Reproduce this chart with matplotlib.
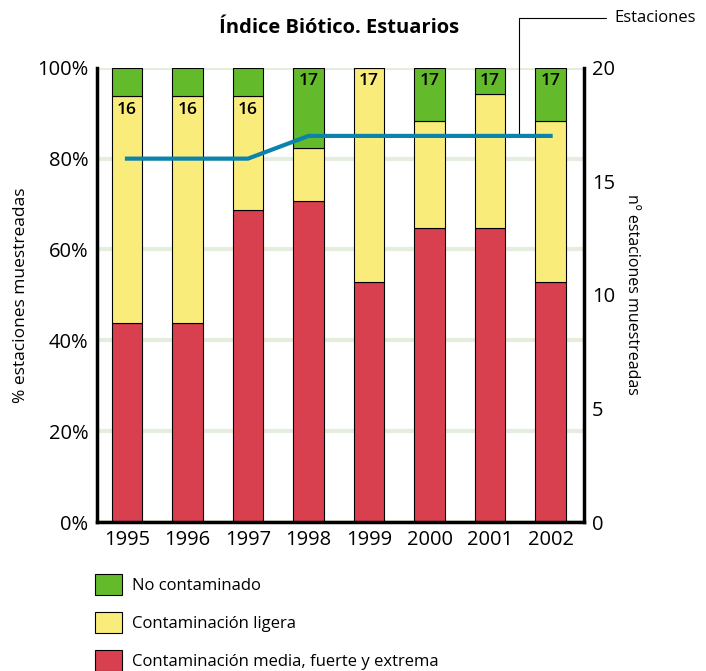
import matplotlib.pyplot as plt
from matplotlib.patches import Patch
import numpy as np

# data
years = ["1995", "1996", "1997", "1998", "1999", "2000", "2001", "2002"]
estaciones = [16, 16, 16, 17, 17, 17, 17, 17]
media_fuerte = [7, 7, 11, 12, 9, 11, 11, 9]      # stations per class
ligera = [8, 8, 4, 2, 8, 4, 5, 6]
no_contaminado = [1, 1, 1, 3, 0, 2, 1, 2]

labels = ["No contaminado", "Contaminación ligera",
          "Contaminación media, fuerte y extrema"]
colors = ["#63bb2c", "#faec7b", "#d8404f"]

plt.rcParams["font.family"] = ["Open Sans", "DejaVu Sans"]

x = np.arange(len(years))
tot = np.array(estaciones, dtype=float)
red = np.array(media_fuerte) / tot * 100
yel = np.array(ligera) / tot * 100
grn = np.array(no_contaminado) / tot * 100

fig = plt.figure(figsize=(7.06, 6.71), dpi=100)
ax = fig.add_axes([0.137, 0.222, 0.69, 0.677])

for v in [0, 20, 40, 60, 80, 100]:
    ax.axhline(v, color="#e4eedc", lw=3, zorder=0)

w = 0.5
ax.bar(x, red, w, color=colors[2], edgecolor="black", lw=0.8, zorder=2)
ax.bar(x, yel, w, bottom=red, color=colors[1], edgecolor="black", lw=0.8, zorder=2)
ax.bar(x, grn, w, bottom=red + yel, color=colors[0], edgecolor="black", lw=0.8, zorder=2)

ax.set_xlim(-0.5, 7.55)
ax.set_ylim(0, 100)
ax.set_yticks([0, 20, 40, 60, 80, 100])
ax.set_yticklabels([f"{v}%" for v in [0, 20, 40, 60, 80, 100]])
ax.set_xticks(x)
ax.set_xticklabels(years)
ax.tick_params(length=0, labelsize=14.5, pad=6)
ax.set_ylabel("% estaciones muestreadas", fontsize=12.5, labelpad=6)
for s in ["top", "right"]:
    ax.spines[s].set_visible(False)
for s in ["left", "bottom"]:
    ax.spines[s].set_linewidth(2.5)

# station count labels
for i, n in enumerate(estaciones):
    if n == 16:
        yy = red[i] + yel[i] - 3
    else:
        yy = 100 - 3
    ax.text(x[i], yy, str(n), ha="center", va="center", fontsize=12.5,
            fontweight="semibold", zorder=4)

ax2 = ax.twinx()
ax2.set_ylim(0, 20)
ax2.set_yticks([0, 5, 10, 15, 20])
ax2.tick_params(length=0, labelsize=14.5, pad=6)
ax2.spines["right"].set_linewidth(2.5)
for s in ["top", "left", "bottom"]:
    ax2.spines[s].set_visible(False)
ax2.set_ylabel("nº estaciones muestreadas", fontsize=11.5, rotation=270,
               labelpad=18)
ax2.plot(x, estaciones, color="#0a83ad", lw=3, zorder=5)

ax2.annotate("Estaciones", xy=(6.47, 17), xytext=(8.05, 22.2),
             textcoords="data", fontsize=12, va="center", ha="left",
             annotation_clip=False,
             arrowprops=dict(arrowstyle="-", color="black", lw=0.8,
                             connectionstyle="angle,angleA=0,angleB=90,rad=0",
                             shrinkA=4, shrinkB=0))

fig.text(0.48, 0.958, "Índice Biótico. Estuarios", ha="center", va="center",
         fontsize=14.5, fontweight="bold")

handles = [Patch(facecolor=c, edgecolor="black", lw=0.8) for c in colors]
fig.legend(handles, labels, loc="upper left", bbox_to_anchor=(0.135, 0.145),
           frameon=False, fontsize=12, handlelength=1.6, handleheight=1.6,
           labelspacing=1.0, handletextpad=0.6, borderaxespad=0,
           borderpad=0)

fig.savefig("out.png", dpi=100)
